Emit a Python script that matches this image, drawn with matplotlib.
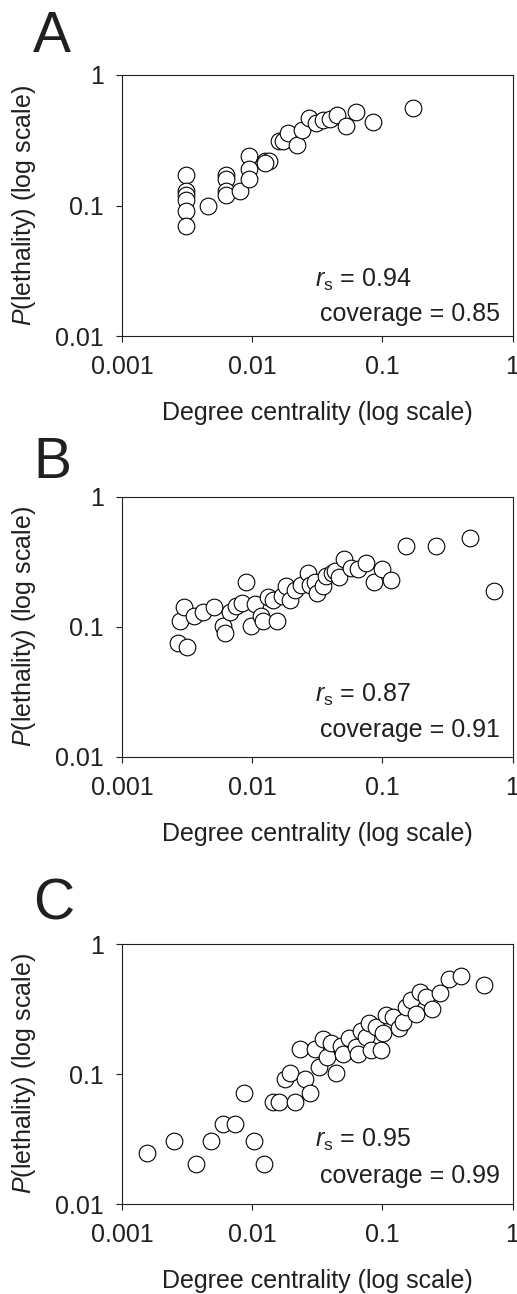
import matplotlib
matplotlib.use("Agg")
import matplotlib.pyplot as plt

plt.rcParams["font.family"] = ["Liberation Sans", "DejaVu Sans"]
plt.rcParams["mathtext.fontset"] = "custom"
plt.rcParams["mathtext.rm"] = "Liberation Sans"
plt.rcParams["mathtext.it"] = "Liberation Sans:italic"

INK = "#231f20"

# panel A: degree centrality vs P(lethality)
a_x = [0.0031, 0.0031, 0.0031, 0.0031, 0.0031, 0.0031, 0.0046,
       0.0063, 0.0063, 0.0063, 0.0063, 0.0081, 0.0094, 0.0094, 0.0094,
       0.0125, 0.0134, 0.0125, 0.0162, 0.0172, 0.019, 0.0222, 0.0243,
       0.0273, 0.0307, 0.035, 0.0394, 0.045, 0.0522, 0.0623, 0.0848, 0.172]
a_y = [0.17, 0.13, 0.12, 0.11, 0.09, 0.07, 0.10,
       0.17, 0.16, 0.13, 0.12, 0.13, 0.24, 0.19, 0.16,
       0.22, 0.22, 0.21, 0.31, 0.31, 0.36, 0.29, 0.38,
       0.47, 0.43, 0.45, 0.46, 0.49, 0.41, 0.52, 0.44, 0.56]

# panel B
b_x = [0.00268, 0.00316, 0.00279, 0.00297, 0.00356, 0.00422, 0.00513,
       0.00594, 0.0062, 0.0067, 0.00745, 0.00838, 0.009, 0.0098, 0.01054,
       0.0117, 0.0122, 0.0132, 0.0144, 0.0156, 0.0169, 0.0183, 0.0194,
       0.0215, 0.0238, 0.0268, 0.0276, 0.0302, 0.0314, 0.035, 0.0367,
       0.0412, 0.043, 0.0464, 0.0507, 0.0578, 0.065, 0.0745, 0.0858,
       0.1, 0.116, 0.151, 0.26, 0.47, 0.718]
b_y = [0.075, 0.0705, 0.111, 0.143, 0.122, 0.131, 0.141,
       0.101, 0.089, 0.131, 0.144, 0.152, 0.221, 0.101, 0.150,
       0.122, 0.110, 0.171, 0.160, 0.110, 0.174, 0.205, 0.161,
       0.193, 0.211, 0.262, 0.211, 0.220, 0.182, 0.205, 0.245,
       0.259, 0.267, 0.241, 0.335, 0.283, 0.279, 0.313, 0.220,
       0.279, 0.230, 0.417, 0.417, 0.483, 0.190]

# panel C
c_x = [0.00155, 0.00253, 0.00367, 0.00484, 0.0060, 0.0074, 0.0087,
       0.0103, 0.0123, 0.0144, 0.0162, 0.0179, 0.0197, 0.0214, 0.0256,
       0.0276, 0.0235, 0.0302, 0.0326, 0.035, 0.0375, 0.0405, 0.0443,
       0.0484, 0.0498, 0.0554, 0.0623, 0.065, 0.0689, 0.0753, 0.0789,
       0.0822, 0.09, 0.098, 0.101, 0.106, 0.121, 0.134, 0.144, 0.153,
       0.165, 0.18, 0.194, 0.218, 0.241, 0.276, 0.324, 0.405, 0.601]
c_y = [0.0245, 0.0305, 0.0202, 0.0305, 0.041, 0.041, 0.0718,
       0.0305, 0.0202, 0.0612, 0.0612, 0.091, 0.102, 0.0612, 0.091,
       0.0718, 0.155, 0.155, 0.114, 0.186, 0.134, 0.172, 0.102,
       0.164, 0.142, 0.188, 0.162, 0.142, 0.214, 0.194, 0.245,
       0.153, 0.231, 0.153, 0.206, 0.284, 0.276, 0.224, 0.253, 0.326,
       0.371, 0.288, 0.43, 0.389, 0.316, 0.418, 0.538, 0.567, 0.484]

panels = [
    ("A", a_x, a_y, "0.94", "0.85"),
    ("B", b_x, b_y, "0.87", "0.91"),
    ("C", c_x, c_y, "0.95", "0.99"),
]

W, H = 517, 1294
# pixel boxes: (top, bottom) of each plot frame
frames = [(75, 336), (497, 756.7), (944, 1204)]
letter_base = [52, 478, 919]
text_rows = [(0.189, 0.056), (0.210, 0.075), (0.220, 0.080)]
left, right = 122, 512.5

fig = plt.figure(figsize=(W / 100, H / 100), dpi=100)

for (letter, xs, ys, rs, cov), (top, bot), lb, (ry, cy) in zip(
        panels, frames, letter_base, text_rows):
    ax = fig.add_axes([left / W, 1 - bot / H, (right - left) / W, (bot - top) / H])
    ax.scatter(xs, ys, s=12 ** 2, facecolor="white", edgecolor="black",
               linewidth=0.8, zorder=3, clip_on=False)
    ax.set_xscale("log")
    ax.set_yscale("log")
    ax.set_xlim(0.001, 1)
    ax.set_ylim(0.01, 1)
    ax.set_xticks([0.001, 0.01, 0.1, 1], ["0.001", "0.01", "0.1", "1"])
    ax.set_yticks([0.01, 0.1, 1], ["0.01", "0.1", "1"])
    ax.minorticks_off()
    ax.tick_params(direction="out", length=4, width=0.8, color=INK,
                   labelsize=18, labelcolor=INK)
    ax.tick_params(axis="x", pad=10)
    ax.tick_params(axis="y", pad=9)
    for sp in ax.spines.values():
        sp.set_linewidth(0.8)
        sp.set_color(INK)

    ax.set_xlabel("Degree centrality (log scale)", fontsize=18, color=INK)
    ax.xaxis.set_label_coords(0.5, -0.25)
    ax.set_ylabel(r"$\it{P}$(lethality) (log scale)", fontsize=18, color=INK,
                  va="center")
    ax.yaxis.set_label_coords(-0.252, 0.5)

    ax.text(0.495, ry, r"$\it{r}_\mathrm{s}$ = " + rs, transform=ax.transAxes,
            fontsize=18, color=INK, va="baseline")
    ax.text(0.508, cy, "coverage = " + cov, transform=ax.transAxes,
            fontsize=18, color=INK, va="baseline")

    fig.text(33 / W, 1 - lb / H, letter, fontsize=41, color=INK,
             va="baseline", ha="left")

fig.savefig("out.png", dpi=100)
